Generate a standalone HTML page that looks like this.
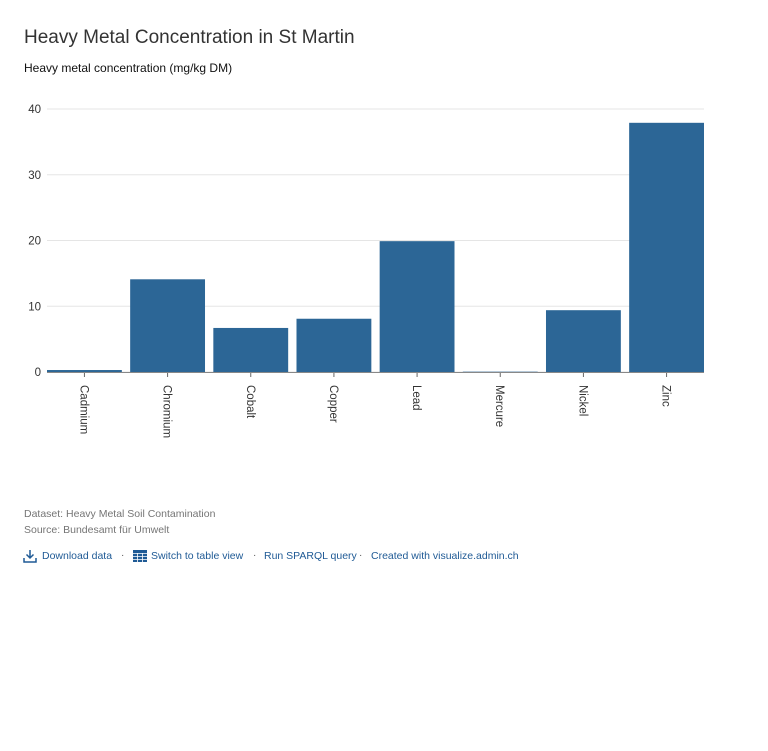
<!DOCTYPE html>
<html><head><meta charset="utf-8"><style>
body{margin:0;background:#fff;font-family:"Liberation Sans",sans-serif;width:768px;height:751px;overflow:hidden}
.t{position:absolute;left:24px;top:27px;font-size:19px;color:#333}
.s{position:absolute;left:24px;top:61px;font-size:12px;color:#111}
.f{position:absolute;left:24px;font-size:10.5px;color:#757575}
.l{position:absolute;top:550px;font-size:10.5px;color:#1f5a95}
.d{position:absolute;top:550px;font-size:10px;color:#555}
</style></head><body>
<div class="t">Heavy Metal Concentration in St Martin</div>
<div class="s">Heavy metal concentration (mg/kg DM)</div>
<svg id="c" width="768" height="480" style="position:absolute;left:0;top:0"></svg>
<div class="f" style="top:508px">Dataset: Heavy Metal Soil Contamination</div>
<div class="f" style="top:524px">Source: Bundesamt für Umwelt</div>
<svg style="position:absolute;left:23px;top:549px" width="14" height="14"><path d="M7 1v8M3.5 5.5L7 9l3.5-3.5M1 9v4h12V9" stroke="#1f5a95" stroke-width="1.5" fill="none"/></svg>
<div class="l" style="left:42px">Download data</div>
<div class="d" style="left:121px">·</div>
<svg style="position:absolute;left:133px;top:550px" width="14" height="12"><rect width="14" height="12" fill="#1f5a95"/><path d="M0 3.5h14M0 6.5h14M0 9.5h14M4.5 3v9M9.5 3v9" stroke="#fff" stroke-width="0.8"/></svg>
<div class="l" style="left:151px">Switch to table view</div>
<div class="d" style="left:253px">·</div>
<div class="l" style="left:264px">Run SPARQL query</div>
<div class="d" style="left:359px">·</div>
<div class="l" style="left:371px">Created with visualize.admin.ch</div>
<script>
const categories=["Cadmium","Chromium","Cobalt","Copper","Lead","Mercure","Nickel","Zinc"];
const values=[0.3,14.1,6.7,8.1,19.9,0.05,9.4,37.9];
const ticks=[0,10,20,30,40];
const NS="http://www.w3.org/2000/svg",svg=document.getElementById("c");
const x0=47,x1=704,y0=372,y1=109,yMax=40;
const y=v=>y0-(v/yMax)*(y0-y1);
const step=(x1-x0)/(categories.length-0.1),bw=step*0.9;
const xb=i=>x0+i*step;
function mk(t,a){const e=document.createElementNS(NS,t);for(const k in a)e.setAttribute(k,a[k]);svg.appendChild(e);return e;}
ticks.forEach(t=>{
 const g=mk("line",{x1:x0,x2:x1,y1:y(t),y2:y(t),stroke:"#e5e5e5"});
 
 
 const tx=mk("text",{x:41,y:y(t)+4,"text-anchor":"end","font-size":"11.5",fill:"#333"});tx.textContent=t;
 
 
});
categories.forEach((c,i)=>{
 const r=mk("rect",{x:xb(i),y:y(values[i]),width:bw,height:y0-y(values[i]),fill:"#2c6696"});
 
 
 const cx=xb(i)+bw/2;
 mk("line",{x1:cx,x2:cx,y1:y0,y2:y0+5,stroke:"#666"});
 const tx=mk("text",{x:0,y:0,"font-size":"11.5",fill:"#333",transform:`translate(${cx-4},385) rotate(90)`});tx.textContent=c;
 
 
});
const ax=mk("line",{x1:x0,x2:x1,y1:y0+0.5,y2:y0+0.5,stroke:"#888"});


</script>
</body></html>
